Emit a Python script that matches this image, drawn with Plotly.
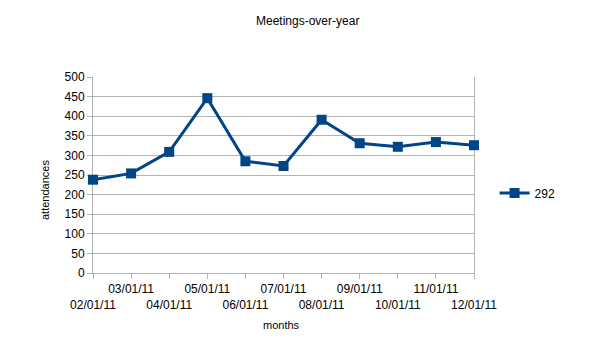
import plotly.graph_objects as go

months = ["02/01/11", "03/01/11", "04/01/11", "05/01/11", "06/01/11", "07/01/11",
          "08/01/11", "09/01/11", "10/01/11", "11/01/11", "12/01/11"]
attendances = [238, 254, 309, 446, 285, 273, 391, 331, 322, 334, 326]
series_name = "292"
y_ticks = [0, 50, 100, 150, 200, 250, 300, 350, 400, 450, 500]

# staggered tick labels: even index on lower row
tick_text = [("<br>" + m) if i % 2 == 0 else m for i, m in enumerate(months)]

FONT = "Liberation Sans, Arial, sans-serif"
BLUE = "#004586"
GRID = "#b3b3b3"

fig = go.Figure()
fig.add_trace(go.Scatter(
    x=list(range(len(months))), y=attendances, mode="lines+markers", name=series_name,
    line=dict(color=BLUE, width=3),
    marker=dict(symbol="square", size=10, color=BLUE),
    cliponaxis=False,
))

fig.update_layout(
    width=588, height=351,
    paper_bgcolor="white", plot_bgcolor="white",
    margin=dict(l=85, r=122, t=69, b=86),
    font=dict(family=FONT, size=12, color="#000000"),
    showlegend=True,
    legend=dict(x=1.054, y=0.408, xanchor="left", yanchor="middle",
                itemwidth=30, font=dict(size=12), bgcolor="rgba(0,0,0,0)"),
    xaxis=dict(
        range=[0, len(months) - 1],
        tickmode="array", tickvals=list(range(len(months))), ticktext=tick_text,
        tickangle=0, layer="below traces",
        showgrid=False, zeroline=False,
        showline=True, linecolor=GRID, linewidth=1,
        ticks="outside", ticklen=5, tickcolor=GRID,
        tickfont=dict(size=12, color="#000000"),
    ),
    yaxis=dict(
        range=[0, 500],
        tickmode="array", tickvals=y_ticks, layer="below traces",
        showgrid=True, gridcolor=GRID, zeroline=False,
        showline=True, linecolor=GRID, linewidth=1, mirror=True,
        ticks="outside", ticklen=5, tickcolor=GRID,
        tickfont=dict(size=12, color="#000000"),
    ),
    annotations=[
        dict(text="Meetings-over-year", xref="paper", yref="paper",
             x=(307 - 93) / 381, y=(273 - 21) / 196, showarrow=False,
             xanchor="center", yanchor="middle", font=dict(size=12)),
        dict(text="months", xref="paper", yref="paper",
             x=(281 - 93) / 381, y=(273 - 325) / 196, showarrow=False,
             xanchor="center", yanchor="middle", font=dict(size=11)),
        dict(text="attendances", xref="paper", yref="paper",
             x=(45 - 93) / 381, y=(273 - 190) / 196, showarrow=False,
             xanchor="center", yanchor="middle", textangle=-90, font=dict(size=11)),
    ],
)

fig.write_html("out.html")
